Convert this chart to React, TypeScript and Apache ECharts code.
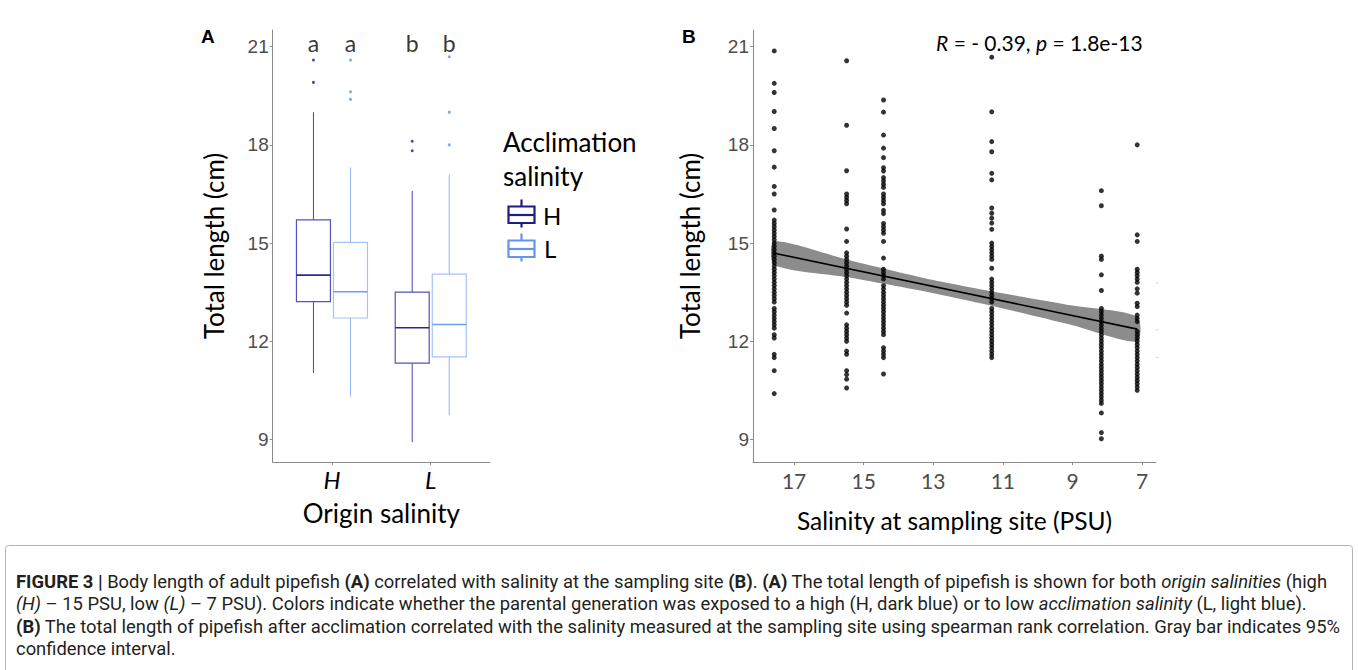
import React, { useEffect, useRef } from "react";
import * as echarts from "echarts";

// ---------- Panel A: box plots ----------
const originCats = ["H", "L"];
const acclimationCats = ["H", "L"];
// [min, Q1, median, Q3, max] for each origin category
const boxAcclH = [
  [11.03, 13.21, 14.02, 15.71, 19.0],
  [8.92, 11.33, 12.41, 13.5, 16.59],
];
const boxAcclL = [
  [10.31, 12.71, 13.51, 15.02, 17.31],
  [9.73, 11.52, 12.51, 14.05, 17.1],
];
const outliersAcclH = [
  [20.59, 19.91],
  [18.11, 17.82],
];
const outliersAcclL = [
  [20.59, 19.62, 19.39],
  [20.69, 19.0, 18.0],
];
const letters = [
  ["a", "a"],
  ["b", "b"],
];
const letterLevel = 21.12;
const yTicks = [9, 12, 15, 18, 21];

// ---------- Panel B: scatter ----------
const siteSalinity = [17.57, 15.49, 14.43, 11.32, 8.17, 7.14];
const lengthsSite1 = [20.87, 19.88, 19.6, 19.02, 18.5, 17.82, 17.32, 16.73, 16.5, 16.01, 15.7, 15.6, 15.5, 15.4, 15.3, 15.2, 15.1, 15.0, 14.9, 14.8, 14.7, 14.6, 14.5, 14.4, 14.3, 14.2, 14.1, 14.0, 13.9, 13.8, 13.7, 13.6, 13.5, 13.4, 13.3, 13.2, 13.0, 12.9, 12.8, 12.7, 12.6, 12.5, 12.4, 12.2, 12.1, 11.6, 11.5, 11.1, 10.4];
const lengthsSite2 = [20.57, 18.6, 17.21, 16.5, 16.4, 16.3, 16.2, 15.43, 15.05, 14.7, 14.6, 14.5, 14.4, 14.3, 14.2, 14.1, 14.0, 13.9, 13.8, 13.7, 13.6, 13.5, 13.4, 13.3, 13.2, 13.1, 12.86, 12.5, 12.4, 12.3, 12.2, 12.1, 12.0, 11.7, 11.6, 11.1, 10.98, 10.84, 10.57];
const lengthsSite3 = [19.37, 19.0, 18.3, 17.9, 17.61, 17.3, 17.2, 17.0, 16.9, 16.8, 16.7, 16.5, 16.4, 16.3, 16.2, 16.0, 15.9, 15.6, 15.5, 15.4, 15.3, 15.05, 14.54, 14.2, 14.1, 14.0, 13.9, 13.7, 13.6, 13.5, 13.4, 13.3, 13.2, 13.1, 13.0, 12.9, 12.8, 12.7, 12.6, 12.5, 12.4, 12.3, 12.2, 11.8, 11.7, 11.6, 11.5, 11.0];
const lengthsSite4 = [20.68, 19.01, 18.1, 17.79, 17.13, 16.93, 16.07, 15.91, 15.76, 15.61, 15.42, 15.0, 14.9, 14.8, 14.7, 14.6, 14.5, 14.23, 13.9, 13.8, 13.7, 13.6, 13.5, 13.4, 13.3, 13.2, 13.0, 12.9, 12.8, 12.7, 12.6, 12.5, 12.4, 12.3, 12.2, 12.1, 12.0, 11.9, 11.8, 11.7, 11.6, 11.5];
const lengthsSite5 = [16.6, 16.14, 14.6, 14.5, 14.03, 13.55, 13.0, 12.9, 12.8, 12.7, 12.6, 12.5, 12.4, 12.3, 12.2, 12.1, 12.0, 11.9, 11.8, 11.7, 11.6, 11.5, 11.4, 11.3, 11.2, 11.1, 11.0, 10.9, 10.8, 10.7, 10.6, 10.5, 10.4, 10.3, 10.2, 10.1, 9.81, 9.21, 9.02];
const lengthsSite6 = [18.0, 15.25, 15.05, 14.2, 14.1, 14.0, 13.9, 13.8, 13.6, 13.47, 13.16, 13.06, 12.8, 12.7, 12.6, 12.3, 12.2, 12.1, 12.0, 11.9, 11.8, 11.7, 11.6, 11.5, 11.4, 11.3, 11.2, 11.1, 11.0, 10.9, 10.8, 10.7, 10.6, 10.5];
const lengthsBySite = [lengthsSite1, lengthsSite2, lengthsSite3, lengthsSite4, lengthsSite5, lengthsSite6];

const regX = [17.57, 7.14];
const regY = [14.69, 12.37];
const ciX = [17.57, 15.5, 13.0, 11.3, 9.0, 7.14];
const ciLo = [14.33, 13.96, 13.47, 13.08, 12.49, 11.99];
const ciHi = [15.05, 14.5, 13.87, 13.52, 13.09, 12.75];
const xTicksB = [7, 9, 11, 13, 15, 17];

// ---------- styling ----------
const TITLE_FONT = "Lato";
const TICK_FONT = "Liberation Sans";
const axisGray = "#8a8a8a";
const tickText = "#4d4d4d";
const colH = { box: "#5353bd", whisk: "#4646b0", med: "#2a2a96", out: "#1c1c88", legend: "#1d1d82" };
const colL = { box: "#a5c3f7", whisk: "#92b6f4", med: "#6f9ef0", out: "#5f90ee", legend: "#6495ed" };
const dodge = 0.1875;
const boxHalf = 0.172;

function boxRender(cols: typeof colH) {
  return (params: any, api: any) => {
    const pos = api.value(0);
    const mn = api.value(1), q1 = api.value(2), md = api.value(3), q3 = api.value(4), mx = api.value(5);
    const pTL = api.coord([pos - boxHalf, q3]);
    const pBR = api.coord([pos + boxHalf, q1]);
    const xc = api.coord([pos, md])[0];
    const yMed = api.coord([pos, md])[1];
    const yMax = api.coord([pos, mx])[1];
    const yMin = api.coord([pos, mn])[1];
    return {
      type: "group",
      children: [
        { type: "line", shape: { x1: xc, y1: yMax, x2: xc, y2: pTL[1] }, style: { stroke: cols.whisk, lineWidth: 1 } },
        { type: "line", shape: { x1: xc, y1: pBR[1], x2: xc, y2: yMin }, style: { stroke: cols.whisk, lineWidth: 1 } },
        {
          type: "rect",
          shape: { x: pTL[0], y: pTL[1], width: pBR[0] - pTL[0], height: pBR[1] - pTL[1] },
          style: { fill: "rgba(255,255,255,0)", stroke: cols.box, lineWidth: 1.2 },
        },
        { type: "line", shape: { x1: pTL[0], y1: yMed, x2: pBR[0], y2: yMed }, style: { stroke: cols.med, lineWidth: 1.6 } },
      ],
    };
  };
}

function legendIcon(x: number, y: number, color: string) {
  return {
    type: "group",
    x,
    y,
    children: [
      { type: "line", shape: { x1: 13, y1: 0, x2: 13, y2: 28 }, style: { stroke: color, lineWidth: 2.2 } },
      { type: "rect", shape: { x: 0, y: 7, width: 26, height: 16.5 }, style: { fill: "#fff", stroke: color, lineWidth: 2.2 } },
      { type: "line", shape: { x1: 0, y1: 15.5, x2: 26, y2: 15.5 }, style: { stroke: color, lineWidth: 2.2 } },
    ],
  };
}

const captionLines = [
  "{b|FIGURE 3 |} Body length of adult pipefish {b|(A)} correlated with salinity at the sampling site {b|(B)}. {b|(A)} The total length of pipefish is shown for both {i|origin salinities} (high",
  "{i|(H)} – 15 PSU, low {i|(L)} – 7 PSU). Colors indicate whether the parental generation was exposed to a high (H, dark blue) or to low {i|acclimation salinity} (L, light blue).",
  "{b|(B)} The total length of pipefish after acclimation correlated with the salinity measured at the sampling site using spearman rank correlation. Gray bar indicates 95%",
  "confidence interval.",
];
const CAP_SIZE = 18.4;

// small light-blue marks at the right edge of panel B (y values)
const edgeMarks = [13.78, 12.35, 11.5];

export default function App() {
  const ref = useRef<HTMLDivElement>(null);
  useEffect(() => {
    if (!ref.current) return;
    const chart = echarts.init(ref.current, undefined, { renderer: "svg" });

    const boxPos = (ci: number, ai: number) => ci + 1 + (ai === 0 ? -dodge : dodge);
    const boxDataH = boxAcclH.map((b, ci) => [boxPos(ci, 0), ...b]);
    const boxDataL = boxAcclL.map((b, ci) => [boxPos(ci, 1), ...b]);
    const outDataH = outliersAcclH.flatMap((arr, ci) => arr.map((v) => [boxPos(ci, 0), v]));
    const outDataL = outliersAcclL.flatMap((arr, ci) => arr.map((v) => [boxPos(ci, 1), v]));
    const letterData = letters.flatMap((row, ci) => row.map((l, ai) => ({ value: [boxPos(ci, ai), letterLevel], name: l })));
    const scatterData = lengthsBySite.flatMap((arr, si) => arr.map((v) => [siteSalinity[si], v]));
    const ciData = ciX.map((x, i) => [x, ciLo[i], ciHi[i]]);

    const yAxisCommon = {
      type: "value",
      min: 8.31,
      max: 21.51,
      axisLine: { show: true, lineStyle: { color: axisGray, width: 1 } },
      axisTick: { show: true, length: 3, customValues: yTicks, lineStyle: { color: axisGray } },
      axisLabel: { customValues: yTicks, margin: 4, color: tickText, fontFamily: TICK_FONT, fontSize: 19 },
      splitLine: { show: false },
      name: "Total length (cm)",
      nameLocation: "middle",
      nameRotate: 90,
      nameGap: 46,
      nameTextStyle: { fontFamily: TITLE_FONT, fontSize: 26, color: "#000" },
    };

    const option: any = {
      animation: false,
      backgroundColor: "#fff",
      grid: [
        { left: 272.7, top: 30, width: 217.3, height: 432 },
        { left: 753, top: 30, width: 403, height: 432 },
      ],
      xAxis: [
        {
          gridIndex: 0,
          type: "value",
          min: 0.4,
          max: 2.6,
          axisLine: { show: true, onZero: false, lineStyle: { color: axisGray, width: 1 } },
          axisTick: { show: true, length: 3, customValues: [1, 2], lineStyle: { color: axisGray } },
          axisLabel: {
            customValues: [1, 2],
            formatter: (v: number) => originCats[Math.round(v) - 1],
            margin: 5,
            fontFamily: TITLE_FONT,
            fontStyle: "italic",
            fontSize: 24,
            color: "#000",
          },
          splitLine: { show: false },
          name: "Origin salinity",
          nameLocation: "middle",
          nameGap: 38,
          nameTextStyle: { fontFamily: TITLE_FONT, fontSize: 26, color: "#000" },
        },
        {
          gridIndex: 1,
          type: "value",
          inverse: true,
          min: 6.6,
          max: 18.18,
          axisLine: { show: true, onZero: false, lineStyle: { color: axisGray, width: 1 } },
          axisTick: { show: true, length: 3, customValues: xTicksB, lineStyle: { color: axisGray } },
          axisLabel: { customValues: xTicksB, margin: 8, fontFamily: TITLE_FONT, fontSize: 21, color: tickText },
          splitLine: { show: false },
          name: "Salinity at sampling site (PSU)",
          nameLocation: "middle",
          nameGap: 46,
          nameTextStyle: { fontFamily: TITLE_FONT, fontSize: 24.5, color: "#000" },
        },
      ],
      yAxis: [
        { ...yAxisCommon, gridIndex: 0 },
        { ...yAxisCommon, gridIndex: 1, nameGap: 50 },
      ],
      series: [
        {
          name: "H",
          type: "custom",
          xAxisIndex: 0,
          yAxisIndex: 0,
          data: boxDataH,
          encode: { x: 0, y: [1, 2, 3, 4, 5] },
          renderItem: boxRender(colH),
        },
        {
          name: "L",
          type: "custom",
          xAxisIndex: 0,
          yAxisIndex: 0,
          data: boxDataL,
          encode: { x: 0, y: [1, 2, 3, 4, 5] },
          renderItem: boxRender(colL),
        },
        {
          type: "scatter",
          xAxisIndex: 0,
          yAxisIndex: 0,
          data: outDataH,
          symbolSize: 3,
          itemStyle: { color: colH.out },
        },
        {
          type: "scatter",
          xAxisIndex: 0,
          yAxisIndex: 0,
          data: outDataL,
          symbolSize: 3,
          itemStyle: { color: colL.out },
        },
        {
          type: "scatter",
          xAxisIndex: 0,
          yAxisIndex: 0,
          data: letterData,
          symbolSize: 0,
          label: {
            show: true,
            position: "inside",
            formatter: (p: any) => p.name,
            fontFamily: TITLE_FONT,
            fontSize: 23,
            color: "#000",
          },
        },
        {
          type: "custom",
          xAxisIndex: 1,
          yAxisIndex: 1,
          data: ciData,
          encode: { x: 0, y: [1, 2] },
          renderItem: (params: any, api: any) => {
            if (params.dataIndex !== 0) return null;
            const upper = ciX.map((x, i) => api.coord([x, ciHi[i]]));
            const lower = ciX.map((x, i) => api.coord([x, ciLo[i]])).reverse();
            return {
              type: "polygon",
              shape: { points: [...upper, ...lower], smooth: 0.25 },
              style: { fill: "#8c8c8c", stroke: "none" },
            };
          },
          z: 1,
        },
        {
          type: "scatter",
          xAxisIndex: 1,
          yAxisIndex: 1,
          data: scatterData,
          symbolSize: 5,
          itemStyle: { color: "#000" },
          z: 3,
        },
        {
          type: "line",
          xAxisIndex: 1,
          yAxisIndex: 1,
          data: regX.map((x, i) => [x, regY[i]]),
          showSymbol: false,
          lineStyle: { color: "#000", width: 1.6 },
          z: 4,
        },
        {
          type: "scatter",
          xAxisIndex: 1,
          yAxisIndex: 1,
          data: edgeMarks.map((v) => [6.6, v]),
          symbol: "rect",
          symbolSize: [3, 1],
          symbolOffset: [1, 0],
          itemStyle: { color: "#b9cdf2" },
          silent: true,
        },
      ],
      graphic: [
        { type: "text", left: 201, top: 27, style: { text: "A", font: "bold 19px 'Liberation Sans'", fill: "#000" } },
        { type: "text", left: 682, top: 27, style: { text: "B", font: "bold 19px 'Liberation Sans'", fill: "#000" } },
        {
          type: "text",
          x: 503,
          y: 159,
          style: {
            text: "Acclimation\nsalinity",
            font: `26px ${TITLE_FONT}`,
            lineHeight: 34,
            fill: "#000",
            verticalAlign: "middle",
          },
        },
        legendIcon(508.5, 199.5, colH.legend),
        legendIcon(508.5, 233.5, colL.legend),
        { type: "text", x: 543, y: 215, style: { text: acclimationCats[0], font: `24px ${TITLE_FONT}`, fill: "#000", verticalAlign: "middle" } },
        { type: "text", x: 544, y: 248, style: { text: acclimationCats[1], font: `24px ${TITLE_FONT}`, fill: "#000", verticalAlign: "middle" } },
        {
          type: "text",
          x: 936,
          y: 42,
          style: {
            text: "{i|R} = - 0.39, {i|p} = 1.8e-13",
            font: `21px ${TITLE_FONT}`,
            fill: "#000",
            verticalAlign: "middle",
            rich: { i: { fontStyle: "italic", fontFamily: TITLE_FONT, fontSize: 21 } },
          },
        },
        {
          type: "rect",
          shape: { x: 5.5, y: 545.5, width: 1347, height: 130, r: 3 },
          style: { fill: "none", stroke: "#b5b5b5", lineWidth: 1 },
        },
        ...captionLines.map((t, i) => ({
          type: "text",
          x: 16,
          y: 581 + i * 22.5,
          style: {
            text: t,
            font: `${CAP_SIZE}px Roboto`,
            fill: "#231f20",
            verticalAlign: "middle",
            rich: {
              b: { fontWeight: "bold", fontFamily: "Roboto", fontSize: CAP_SIZE, fill: "#231f20" },
              i: { fontStyle: "italic", fontFamily: "Roboto", fontSize: CAP_SIZE, fill: "#231f20" },
            },
          },
        })),
      ],
    };
    chart.setOption(option);
    return () => chart.dispose();
  }, []);
  return (
    <div
      ref={ref}
      style={{ position: "fixed", left: 0, top: 0, width: 1358, height: 670, background: "#fff" }}
    />
  );
}
